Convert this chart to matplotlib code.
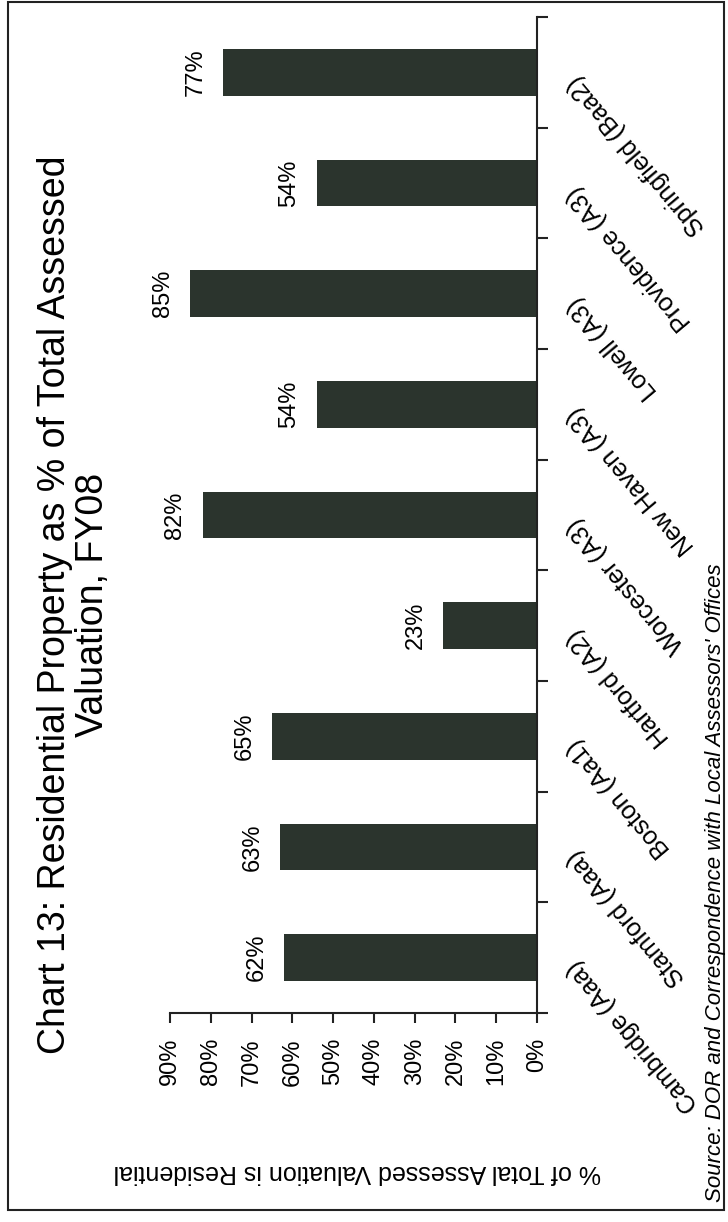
import matplotlib.pyplot as plt
from matplotlib.patches import Rectangle
from matplotlib.transforms import ScaledTranslation

# chart data (bottom to top in the rotated picture)
cities = ["Cambridge (Aaa)", "Stamford (Aaa)", "Boston (Aa1)", "Hartford (A2)",
          "Worcester (A3)", "New Haven (A3)", "Lowell (A3)", "Providence (A3)",
          "Springfield (Baa2)"]
residential_pct = [62, 63, 65, 23, 82, 54, 85, 54, 77]
value_ticks = [0, 10, 20, 30, 40, 50, 60, 70, 80, 90]
value_tick_labels = ["0%", "10%", "20%", "30%", "40%", "50%", "60%", "70%", "80%", "90%"]

title = "Chart 13: Residential Property as % of Total Assessed\nValuation, FY08"
axis_label = "% of Total Assessed Valuation is Residential"
source = "Source: DOR and Correspondence with Local Assessors' Offices"

plt.rcParams['font.family'] = ['Liberation Sans', 'DejaVu Sans']

fig = plt.figure(figsize=(7.28, 12.22), dpi=100)
ax = fig.add_axes([170 / 728, 1 - 1013 / 1222, (537 - 170) / 728, (1013 - 17) / 1222])

positions = list(range(len(cities)))
ax.barh(positions, residential_pct, height=0.42, color='#2b342d')

# value axis runs from right (0%) to left (90%)
ax.set_xlim(90, 0)
ax.set_ylim(-0.5, len(cities) - 0.5)
ax.set_xticks(value_ticks)
ax.set_xticklabels(value_tick_labels, rotation=90, fontsize=17)
ax.tick_params(axis='x', direction='out', length=7, width=1.5, pad=11, color='#222222')

# category axis on the right, ticks between the bars
ax.yaxis.tick_right()
ax.set_yticks([p - 0.5 for p in positions] + [len(cities) - 0.5])
ax.set_yticklabels([])
ax.tick_params(axis='y', direction='out', length=8, width=1.5, color='#222222')

for side in ['top', 'left']:
    ax.spines[side].set_visible(False)
for side in ['bottom', 'right']:
    ax.spines[side].set_linewidth(1.5)
    ax.spines[side].set_color('#222222')

# category names, slanted
label_offset = ScaledTranslation(35 / 100, -6 / 100, fig.dpi_scale_trans)
for p, name in zip(positions, cities):
    ax.text(1.0, p, name, transform=ax.get_yaxis_transform() + label_offset,
            rotation=130, rotation_mode='anchor', ha='right', va='center', fontsize=18)

# value labels at the end of each bar
for p, v in zip(positions, residential_pct):
    ax.annotate(f"{v}%", (v, p), xytext=(-12, 0), textcoords='offset points',
                rotation=90, ha='right', va='center', fontsize=17)

# title, axis label and source
fig.text(74 / 728, 1 - 605 / 1222, title, rotation=90, ha='center', va='center',
         multialignment='center', fontsize=27, linespacing=1.1)
fig.text(357 / 728, 1 - 1172 / 1222, axis_label, rotation=180, ha='center', va='center',
         fontsize=18)
fig.text(716 / 728, 1 - 1202 / 1222, source, rotation=90, ha='center', va='bottom',
         fontsize=16, style='italic')

# frame round the whole chart
fig.add_artist(Rectangle((8 / 728, 1 - 1210 / 1222), (724 - 8) / 728, (1210 - 2) / 1222,
                         transform=fig.transFigure, fill=False, lw=1.5, color='#222222'))

fig.savefig('out.png', dpi=100)
